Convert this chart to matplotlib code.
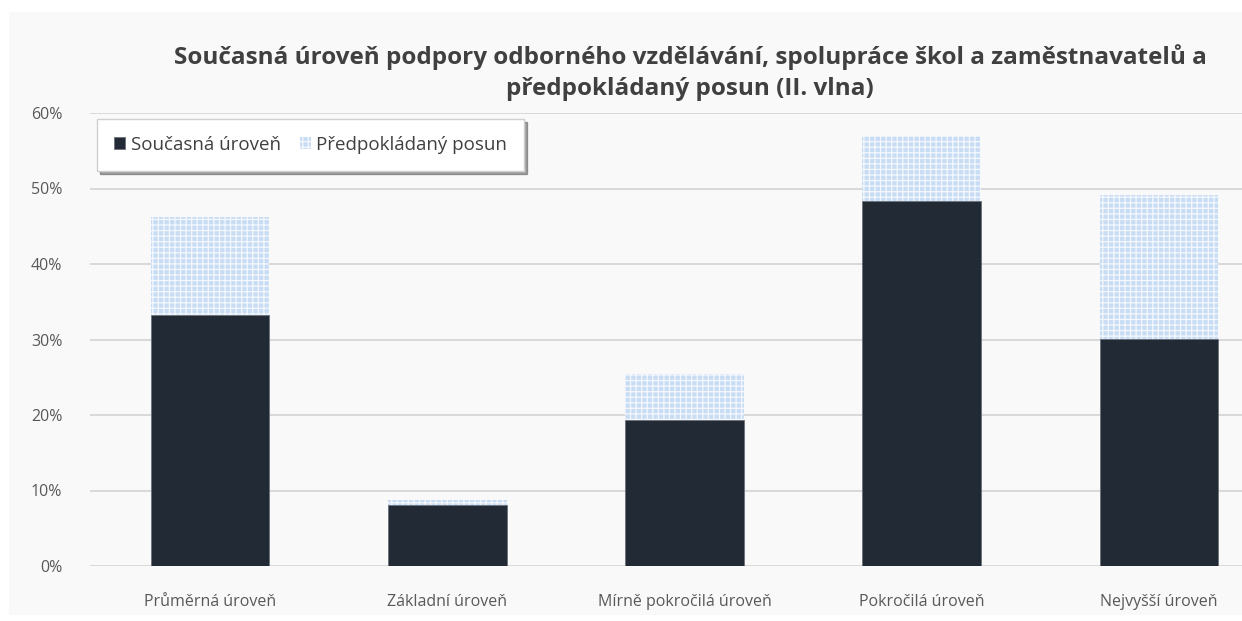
import matplotlib.pyplot as plt
from matplotlib.patches import Rectangle
from matplotlib.ticker import PercentFormatter

categories = ['Průměrná úroveň', 'Základní úroveň', 'Mírně pokročilá úroveň',
              'Pokročilá úroveň', 'Nejvyšší úroveň']
soucasna = [33.2, 8.1, 19.3, 48.3, 30.1]
celkem = [46.2, 8.7, 25.4, 57.0, 49.1]
posun = [c - s for c, s in zip(celkem, soucasna)]

plt.rcParams['font.family'] = ['Open Sans', 'DejaVu Sans']
plt.rcParams['hatch.linewidth'] = 0.9

W, H = 1242, 621
fig = plt.figure(figsize=(W / 100, H / 100), dpi=100)
fig.patch.set_facecolor('white')
fig.patches.append(Rectangle((9 / W, 0.01), 1, 1 - 12 / H - 0.01, transform=fig.transFigure,
                             facecolor='#f9f9f9', edgecolor='none', zorder=-10))

ax = fig.add_axes([90 / W, 1 - 566 / H, 1 - 90 / W, (566 - 113) / H])
ax.set_facecolor('none')

x = list(range(len(categories)))
ax.bar(x, soucasna, width=0.5, color='#222a36', edgecolor='#6b717a', linewidth=0.6,
       label='Současná úroveň', zorder=3)
ax.bar(x, posun, width=0.5, bottom=soucasna, color='#c8ddf4', edgecolor='#f4f8fd',
       hatch='+++', linewidth=0, label='Předpokládaný posun', zorder=3)

ax.set_ylim(0, 60)
ax.set_xlim(-0.506, 4.35)
ax.set_yticks(range(0, 61, 10))
ax.yaxis.set_major_formatter(PercentFormatter(decimals=0))
ax.grid(axis='y', color='#d9d9d9', linewidth=1.4, zorder=0)
for s in ax.spines.values():
    s.set_visible(False)
ax.tick_params(length=0, labelsize=11.5, labelcolor='#595959')
ax.tick_params(axis='x', pad=20)
ax.tick_params(axis='y', pad=20)
ax.set_xticks(x)
ax.set_xticklabels(categories)

fig.text(690 / W, 1 - 57 / H, 'Současná úroveň podpory odborného vzdělávání, spolupráce škol a zaměstnavatelů a',
         ha='center', va='center', fontsize=17.5, fontweight='bold', color='#404040')
fig.text(690 / W, 1 - 89 / H, 'předpokládaný posun (II. vlna)',
         ha='center', va='center', fontsize=17.5, fontweight='bold', color='#404040')

leg = ax.legend(loc='upper left', bbox_to_anchor=(97 / W, 1 - 119 / H),
                bbox_transform=fig.transFigure, borderaxespad=0, ncol=2,
                fontsize=13.5, frameon=True, fancybox=False, shadow=True,
                handlelength=0.6, handleheight=0.6, handletextpad=0.3, columnspacing=1.0,
                borderpad=0.9, labelcolor='#404040')
leg.get_frame().set_edgecolor('#d0d0d0')
leg.get_frame().set_facecolor('white')

fig.savefig('out.png', dpi=100)
